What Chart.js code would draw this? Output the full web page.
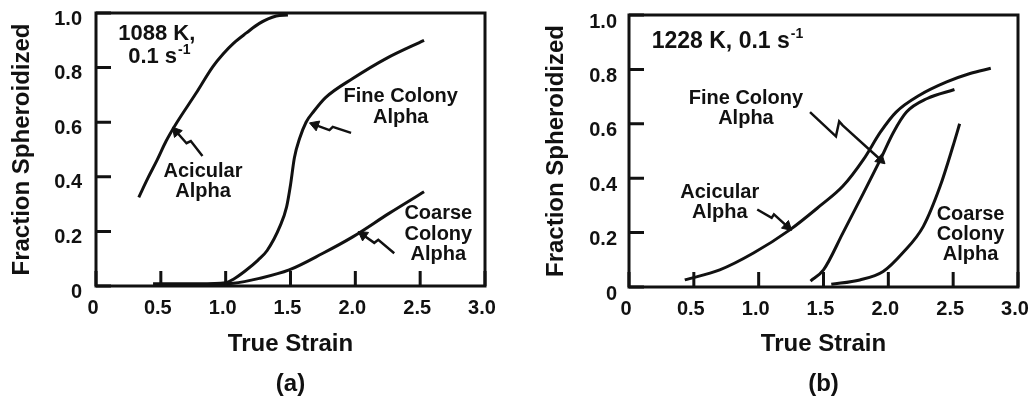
<!DOCTYPE html>
<html>
<head>
<meta charset="utf-8">
<script src="https://cdn.jsdelivr.net/npm/chart.js@4.4.0/dist/chart.umd.min.js"></script>
<style>
body { margin: 0; background: #fff; }
.wrap { display: flex; width: 1032px; height: 404px; }
canvas { display: block; }
</style>
</head>
<body>
<div class="wrap">
  <canvas id="chart_a" width="516" height="404"></canvas>
  <canvas id="chart_b" width="516" height="404"></canvas>
</div>
<script>
// tick labels
var strainTicks = ['0', '0.5', '1.0', '1.5', '2.0', '2.5', '3.0'];
var fractionTicks = ['0', '0.2', '0.4', '0.6', '0.8', '1.0'];

// (a) 1088 K, 0.1 s-1
var acicularStrainA = [0.33, 0.40, 0.47, 0.54, 0.62, 0.77, 0.90, 0.98, 1.06, 1.16, 1.26, 1.39, 1.48];
var acicularFracA = [0.325, 0.395, 0.46, 0.53, 0.596, 0.705, 0.803, 0.85, 0.889, 0.927, 0.962, 0.989, 0.993];
var fineStrainA = [0.44, 0.80, 1.00, 1.06, 1.15, 1.25, 1.32, 1.42, 1.47, 1.50, 1.53, 1.57, 1.62, 1.68, 1.77, 1.98, 2.24, 2.53];
var fineFracA = [0.008, 0.008, 0.012, 0.025, 0.055, 0.095, 0.13, 0.22, 0.29, 0.37, 0.47, 0.54, 0.60, 0.64, 0.69, 0.76, 0.834, 0.90];
var coarseStrainA = [0.75, 1.06, 1.26, 1.49, 1.75, 1.98, 2.26, 2.53];
var coarseFracA = [0.005, 0.01, 0.028, 0.059, 0.12, 0.18, 0.266, 0.345];

// (b) 1228 K, 0.1 s-1
var acicularStrainB = [0.43, 0.70, 0.96, 1.24, 1.47, 1.65, 1.81, 1.94, 2.06, 2.24, 2.45, 2.63, 2.79];
var acicularFracB = [0.026, 0.063, 0.125, 0.21, 0.297, 0.371, 0.47, 0.57, 0.643, 0.705, 0.754, 0.785, 0.804];
var fineStrainB = [1.40, 1.50, 1.65, 1.81, 1.94, 2.04, 2.14, 2.30, 2.51];
var fineFracB = [0.022, 0.063, 0.199, 0.347, 0.47, 0.569, 0.643, 0.693, 0.726];
var coarseStrainB = [1.56, 1.78, 1.96, 2.11, 2.27, 2.40, 2.50, 2.55];
var coarseFracB = [0.01, 0.026, 0.057, 0.125, 0.223, 0.371, 0.52, 0.60];

var ink = '#111';
var family = "'Liberation Sans', Arial, sans-serif";

// zigzag pointers, tip first (data units)
var arrowsA = [
  { x: [0.62, 0.698, 0.731, 0.821], y: [0.565, 0.523, 0.531, 0.476] },
  { x: [1.69, 1.80, 1.826, 1.967], y: [0.59, 0.571, 0.583, 0.561] },
  { x: [2.06, 2.146, 2.177, 2.30], y: [0.187, 0.158, 0.169, 0.12] }
];
var arrowsB = [
  { x: [1.94, 1.648, 1.621, 1.596, 1.396], y: [0.468, 0.594, 0.609, 0.554, 0.643] },
  { x: [1.22, 1.118, 1.10, 0.989], y: [0.223, 0.267, 0.254, 0.285] }
];

var notesA = [
  { text: '1088 K,', x: 0.172, y: 0.923, align: 'left', size: 22 },
  { text: '0.1 s', sup: '-1', x: 0.248, y: 0.84, align: 'left', size: 22 },
  { text: 'Acicular', x: 0.825, y: 0.419 },
  { text: 'Alpha', x: 0.825, y: 0.345 },
  { text: 'Fine Colony', x: 2.35, y: 0.693 },
  { text: 'Alpha', x: 2.35, y: 0.618 },
  { text: 'Coarse', x: 2.64, y: 0.266 },
  { text: 'Colony', x: 2.64, y: 0.187 },
  { text: 'Alpha', x: 2.64, y: 0.114 }
];
var notesB = [
  { text: '1228 K, 0.1 s', sup: '-1', x: 0.175, y: 0.903, align: 'left', size: 23 },
  { text: 'Fine Colony', x: 0.902, y: 0.693 },
  { text: 'Alpha', x: 0.902, y: 0.621 },
  { text: 'Acicular', x: 0.70, y: 0.347 },
  { text: 'Alpha', x: 0.70, y: 0.273 },
  { text: 'Coarse', x: 2.634, y: 0.267 },
  { text: 'Colony', x: 2.634, y: 0.193 },
  { text: 'Alpha', x: 2.634, y: 0.119 }
];

function pairs(xs, ys) {
  return xs.map(function (x, i) { return { x: x, y: ys[i] }; });
}

function curve(xs, ys) {
  return {
    data: pairs(xs, ys),
    borderColor: ink,
    borderWidth: 3,
    pointRadius: 0,
    fill: false,
    cubicInterpolationMode: 'monotone'
  };
}

function arrow(a) {
  return {
    data: pairs(a.x, a.y),
    borderColor: ink,
    borderWidth: 2.5,
    tension: 0,
    fill: false,
    pointStyle: 'triangle',
    pointBackgroundColor: ink,
    pointBorderColor: ink,
    pointBorderWidth: 1,
    pointRadius: function (c) { return c.dataIndex === 0 ? 6 : 0; },
    pointRotation: function (c) {
      var sx = c.chart.scales.x, sy = c.chart.scales.y;
      var d = c.dataset.data;
      var dx = sx.getPixelForValue(d[0].x) - sx.getPixelForValue(d[1].x);
      var dy = sy.getPixelForValue(d[0].y) - sy.getPixelForValue(d[1].y);
      return Math.atan2(dx, -dy) * 180 / Math.PI;
    }
  };
}

// box round the plot, inward tick marks, and the text labels inside it
var frameAndNotes = {
  id: 'frameAndNotes',
  afterDatasetsDraw: function (chart, args, opts) {
    var ctx = chart.ctx, a = chart.chartArea;
    var sx = chart.scales.x, sy = chart.scales.y;
    ctx.save();
    ctx.lineWidth = 3;
    ctx.strokeStyle = ink;
    ctx.strokeRect(a.left, a.top, a.right - a.left, a.bottom - a.top);
    ctx.beginPath();
    sx.ticks.forEach(function (t) {
      var px = sx.getPixelForValue(t.value);
      ctx.moveTo(px, a.bottom);
      ctx.lineTo(px, a.bottom - 15);
    });
    sy.ticks.forEach(function (t) {
      var py = sy.getPixelForValue(t.value);
      ctx.moveTo(a.left, py);
      ctx.lineTo(a.left + 15, py);
    });
    ctx.stroke();
    ctx.fillStyle = ink;
    ctx.textBaseline = 'middle';
    opts.notes.forEach(function (n) {
      var size = n.size || 20;
      ctx.font = 'bold ' + size + 'px ' + family;
      ctx.textAlign = n.align || 'center';
      var px = sx.getPixelForValue(n.x), py = sy.getPixelForValue(n.y);
      ctx.fillText(n.text, px, py);
      if (n.sup) {
        var w = ctx.measureText(n.text).width;
        ctx.font = 'bold ' + Math.round(size * 0.62) + 'px ' + family;
        ctx.textAlign = 'left';
        ctx.fillText(n.sup, px + w + 1, py - size * 0.3);
      }
    });
    ctx.restore();
  }
};

function makeChart(id, curves, arrows, notes, panel, box) {
  var datasets = curves.map(function (c) { return curve(c[0], c[1]); })
    .concat(arrows.map(arrow));
  return new Chart(document.getElementById(id), {
    type: 'line',
    data: { datasets: datasets },
    plugins: [frameAndNotes],
    options: {
      responsive: false,
      animation: false,
      events: [],
      layout: {
        padding: { top: box.top, right: box.right, left: 0, bottom: 0 }
      },
      plugins: {
        legend: { display: false },
        tooltip: { enabled: false },
        frameAndNotes: { notes: notes }
      },
      scales: {
        x: {
          type: 'linear',
          min: 0,
          max: 3,
          afterFit: function (s) { s.height = 404 - box.bottom; },
          grid: { drawOnChartArea: false, drawTicks: true, tickLength: 10, tickColor: 'rgba(0,0,0,0)' },
          border: { display: false },
          ticks: {
            stepSize: 0.5,
            autoSkip: false,
            maxRotation: 0,
            padding: 0,
            labelOffset: -3,
            color: ink,
            font: { family: family, size: 20, weight: 'bold' },
            callback: function (v, i) { return strainTicks[i]; }
          },
          title: {
            display: true,
            text: ['True Strain', panel],
            color: ink,
            padding: 0,
            font: { family: family, size: 24, weight: 'bold', lineHeight: 40 / 24 }
          }
        },
        y: {
          min: 0,
          max: 1,
          afterFit: function (s) { s.width = box.left; },
          grid: { drawOnChartArea: false, drawTicks: true, tickLength: box.tickGap, tickColor: 'rgba(0,0,0,0)' },
          border: { display: false },
          ticks: {
            stepSize: 0.2,
            padding: 0,
            labelOffset: box.labelOffset,
            color: ink,
            font: { family: family, size: 20, weight: 'bold' },
            callback: function (v, i) { return fractionTicks[i]; }
          },
          title: {
            display: true,
            text: 'Fraction Spheroidized',
            color: ink,
            padding: { top: box.titlePad, bottom: 0 },
            font: { family: family, size: 24, weight: 'bold' }
          }
        }
      }
    }
  });
}

var chartA = makeChart('chart_a',
  [[acicularStrainA, acicularFracA], [fineStrainA, fineFracA], [coarseStrainA, coarseFracA]],
  arrowsA, notesA, '(a)',
  { left: 96, top: 13, right: 31, bottom: 286, tickGap: 14, labelOffset: 6, titlePad: 8 });

var chartB = makeChart('chart_b',
  [[acicularStrainB, acicularFracB], [fineStrainB, fineFracB], [coarseStrainB, coarseFracB]],
  arrowsB, notesB, '(b)',
  { left: 113, top: 15, right: 14, bottom: 287, tickGap: 12, labelOffset: 7, titlePad: 26 });
</script>
</body>
</html>
